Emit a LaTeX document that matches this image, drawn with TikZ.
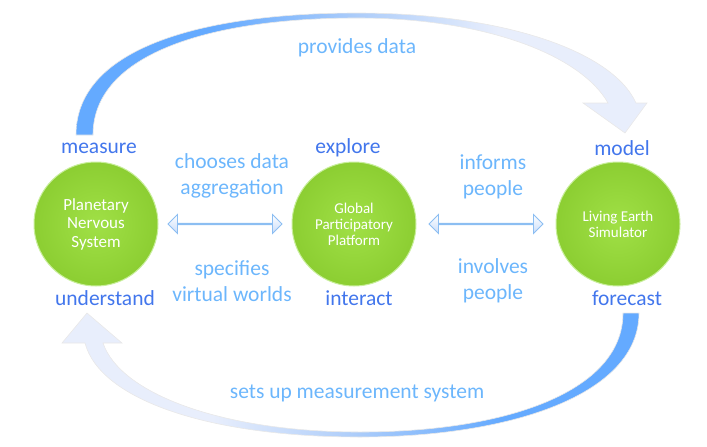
\documentclass[tikz,border=0pt]{standalone}
\usepackage{fontspec}
\setmainfont{Carlito}
\usetikzlibrary{shapes.arrows,calc}
\definecolor{lbl}{RGB}{66,118,236}
\definecolor{ltxt}{RGB}{108,182,252}
\definecolor{arrblue}{RGB}{100,170,255}
\definecolor{arrmid}{RGB}{175,206,250}
\definecolor{arrpale}{RGB}{232,238,252}
\definecolor{gin}{RGB}{160,224,70}
\definecolor{gout}{RGB}{140,206,50}
\definecolor{grim}{RGB}{200,238,155}
\definecolor{dafill}{RGB}{200,220,250}
\definecolor{daline}{RGB}{140,190,242}
\pgfdeclarehorizontalshading{topband}{100bp}{color(0bp)=(arrblue); color(25bp)=(arrblue); color(37bp)=(arrblue); color(50bp)=(arrmid); color(62bp)=(arrpale); color(100bp)=(arrpale)}
\pgfdeclarehorizontalshading{botband}{100bp}{color(0bp)=(arrpale); color(38bp)=(arrpale); color(50bp)=(arrmid); color(63bp)=(arrblue); color(75bp)=(arrblue); color(100bp)=(arrblue)}
\tikzset{
  ball/.style={circle, minimum size=124pt, inner sep=0pt, shading=radial,
    inner color=gin, outer color=gout, draw=grim, line width=1pt,
    text=white, align=center},
  stagelbl/.style={text=lbl, font=\fontsize{21.5}{26}\selectfont, inner sep=0pt},
  flowtxt/.style={text=ltxt, font=\fontsize{21.5}{26}\selectfont, align=center, inner sep=0pt},
  darrow/.style={double arrow, minimum width=19pt, double arrow head extend=6pt,
    double arrow head indent=0pt, minimum height=114pt, inner sep=0pt,
    top color=white, bottom color=dafill, draw=daline, line width=0.9pt},
  curvearr/.style={draw=black!9, line width=0.6pt}
}
\begin{document}
\begin{tikzpicture}[x=1pt,y=-1pt]
\useasboundingbox (0,0) rectangle (707,447);
% top curved arrow
\path[curvearr, shading=topband]
  (76,135) .. controls (76,45) and (210,13) .. (357,13)
  .. controls (500,13) and (612,50) .. (636,103)
  -- (647,103) -- (625,133) -- (583,103) -- (608,103)
  .. controls (582,57) and (490,18) .. (357,18)
  .. controls (215,18) and (93,52) .. (93,135) -- cycle;
% bottom curved arrow
\path[curvearr, shading=botband]
  (639,313) .. controls (639,395) and (510,437) .. (360,437)
  .. controls (210,437) and (100,400) .. (85,343)
  -- (62,343) -- (87,313) -- (122,343) -- (103,343)
  .. controls (120,393) and (220,432) .. (360,432)
  .. controls (505,432) and (623,392) .. (623,313) -- cycle;
% circles
\node[ball, font=\fontsize{17}{18.5}\selectfont] (pns) at (96,224) {Planetary\\Nervous\\System};
\node[ball, font=\fontsize{15}{16}\selectfont] (gpp) at (354,224) {Global\\Participatory\\Platform};
\node[ball, font=\fontsize{15}{16}\selectfont] (les) at (618,224) {Living Earth\\Simulator};
% double arrows
\path (pns) -- (gpp) node[midway, darrow] (a1) {};
\path (gpp) -- (les) node[midway, darrow] (a2) {};
% stage labels
\node[stagelbl] (measure) at (99,148) {measure};
\node[stagelbl] (understand) at (105,298) {understand};
\node[stagelbl] (explore) at (348,148) {explore};
\node[stagelbl] (interact) at (359,298) {interact};
\node[stagelbl] (model) at (622,148) {model};
\node[stagelbl] (forecast) at (627,298) {forecast};
% flow texts
\node[flowtxt] (t1) at (232,176) {chooses data\\aggregation};
\node[flowtxt] (t2) at (232,281) {specifies\\virtual worlds};
\node[flowtxt] (t3) at (493,177) {informs\\people};
\node[flowtxt] (t4) at (493,281) {involves\\people};
\node[flowtxt] (t5) at (357,48) {provides data};
\node[flowtxt] (t6) at (357,393) {sets up measurement system};
\end{tikzpicture}
\end{document}
